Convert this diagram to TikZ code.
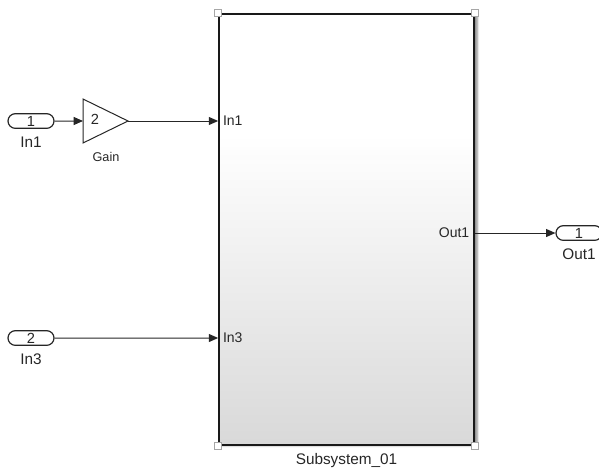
\documentclass[tikz,border=0pt]{standalone}
\usepackage{fontspec}
\setmainfont{Liberation Sans}
\usetikzlibrary{arrows.meta, positioning, fit, backgrounds, shadows.blur, shapes.misc}

\pgfdeclareverticalshading{subsysshade}{100bp}{color(0bp)=(black!15); color(25bp)=(black!15); color(61bp)=(white); color(100bp)=(white)}

\begin{document}
\begin{tikzpicture}[
			x=0.75pt, y=-0.75pt,
			every node/.style={font=\fontsize{9}{10}\selectfont, text=black!85},
			portpill/.style={
				rounded rectangle, draw=black!85, fill=white,
				line width=0.9pt, inner sep=0pt,
				minimum width=34.5pt, minimum height=11pt,
				font=\fontsize{11}{12}\selectfont
			},
			portname/.style={
				font=\fontsize{11.5}{12}\selectfont, inner sep=1pt
			},
			portlbl/.style={
				font=\fontsize{10.5}{11}\selectfont, inner sep=1pt
			},
			signal/.style={
				-{Triangle[length=7pt,width=6pt]},
				line width=0.75pt, draw=black!85
			},
			handle/.style={
				rectangle, draw=gray!70, fill=white,
				line width=0.6pt, minimum size=5pt, inner sep=0pt
			}
			]
			\useasboundingbox (0,0) rectangle (599,472);
			
			% Subsystem block
			\coordinate (sstl) at (219,14);
			\coordinate (ssbr) at (474,445);
			\node[fit=(sstl)(ssbr), inner sep=0pt, draw=black!90,
			line width=1.3pt, shade, shading=subsysshade,
			blur shadow={shadow xshift=2.5pt, shadow yshift=-0.5pt,
				shadow blur radius=1.5pt, shadow opacity=45}] (sub) {};
			\node[portname, below=4.5pt of sub] (subname) {Subsystem\_01};
			\foreach \c/\n in {north west/hnw, north east/hne, south west/hsw, south east/hse}
			\node[handle] (\n) at (sub.\c) {};
			
			% Inports
			\node[portpill] (in1) at (31,121) {1};
			\node[portname, below=5pt of in1] (in1name) {In1};
			\node[portpill] (in3) at (31,338) {2};
			\node[portname, below=5pt of in3] (in3name) {In3};
			
			% Gain
			\coordinate (gainin)  at (83,121);
			\coordinate (gainout) at (128,121);
			\draw[line width=0.75pt, draw=black!85, fill=white]
			(83,99) -- (gainout) -- (83,143) -- cycle;
			\node[font=\fontsize{11}{12}\selectfont] (gainval) at (95,119) {2};
			\node[font=\fontsize{9.5}{10}\selectfont] (gainname) at (106,157) {Gain};
			
			% Outport
			\node[portpill] (out1) at (579,233) {1};
			\node[portname, below=5pt of out1] (out1name) {Out1};
			
			% Port labels
			\node[portlbl, anchor=west, xshift=2.5pt] (sin1)  at (sub.west |- in1)  {In1};
			\node[portlbl, anchor=west, xshift=2.5pt] (sin3)  at (sub.west |- in3)  {In3};
			\node[portlbl, anchor=east, xshift=-3pt] (sout1) at (sub.east |- out1) {Out1};
			
			% Signals
			\draw[signal] (in1) -- (gainin);
			\draw[signal] (gainout) -- (sub.west |- gainout);
			\draw[signal] (in3) -- (sub.west |- in3);
			\draw[signal] (sub.east |- out1) -- (out1);
			
		\end{tikzpicture}
\end{document}
